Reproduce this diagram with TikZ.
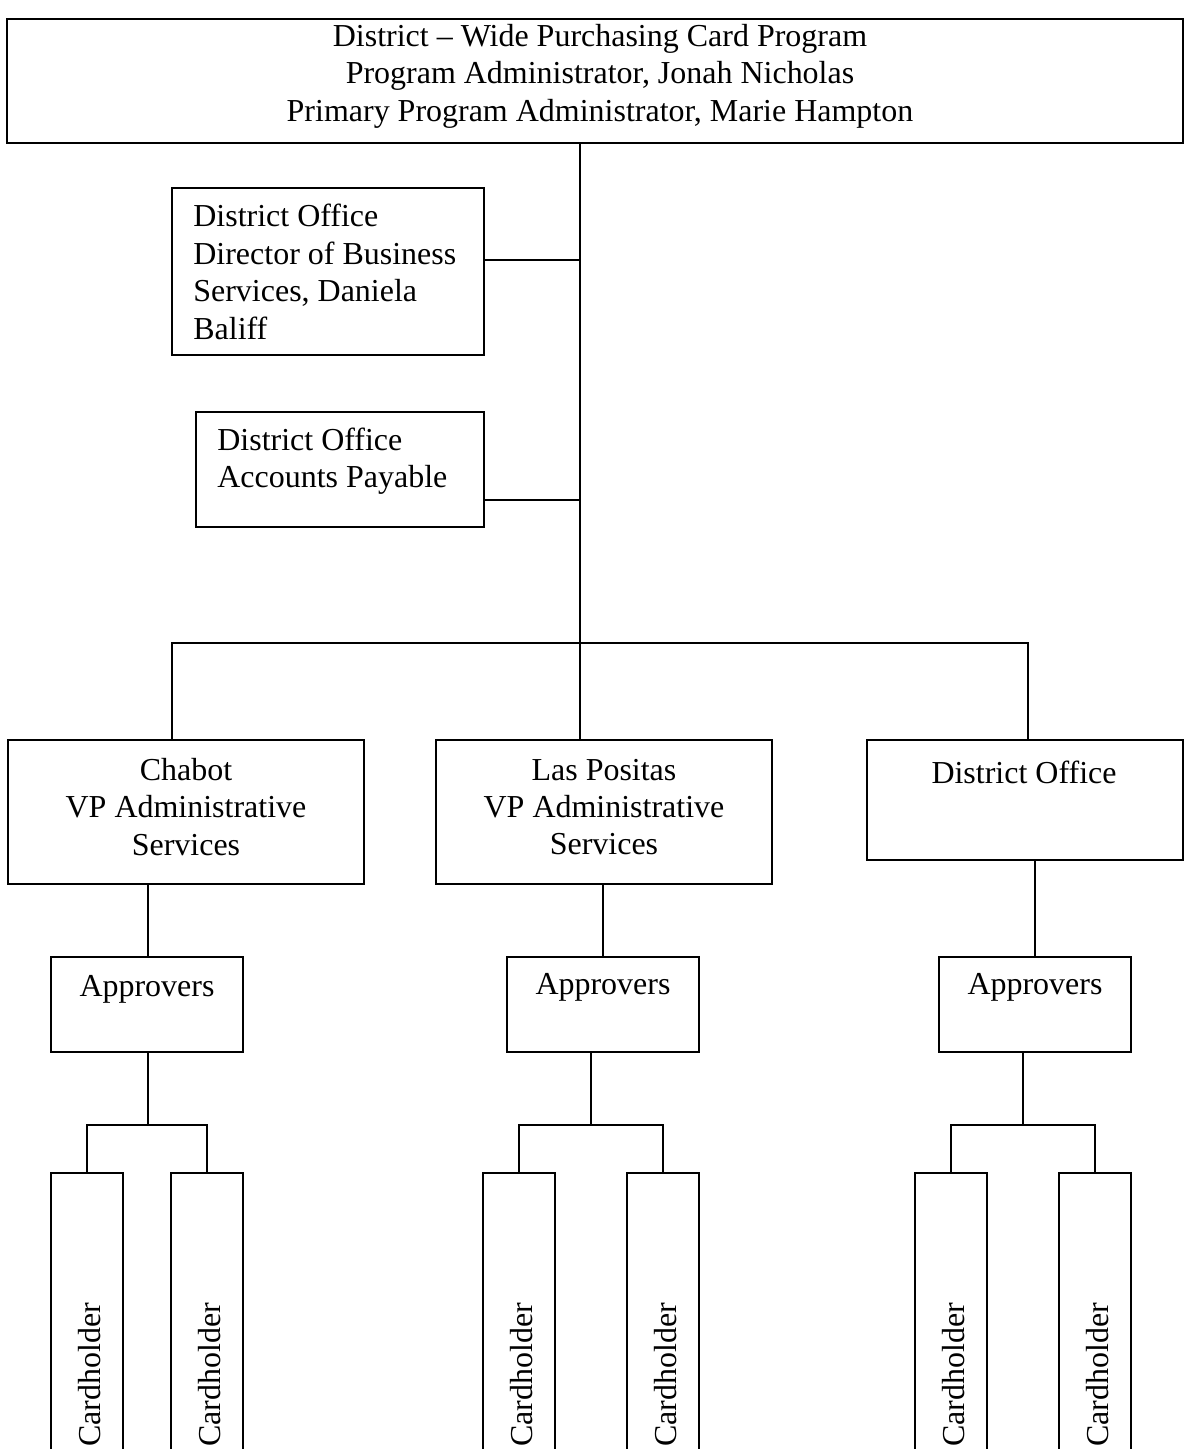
\documentclass[tikz,border=0pt]{standalone}
\usepackage{fontspec}
\setmainfont{Liberation Serif}
\usepackage{tikz}
\usetikzlibrary{positioning}
\usetikzlibrary{fit}

\begin{document}
\begin{tikzpicture}
               [x=0.02cm, y=-0.02cm,
                box/.style = {draw, line width=1pt, inner sep=0pt},
                txt/.style = {inner sep=0pt, font=\fontsize{18.2}{21.3}\selectfont},
                holder/.style = {txt, rotate=90},
                link/.style = {line width=1pt}]
                \path[use as bounding box] (0,0) rectangle (1184,1449);
                \clip (0,0) rectangle (1184,1449);
                % Program box at the top
                \node[box, fit={(7,19) (1183,143)}] (prog) {};
                \node[txt, align=center] (progtxt) at (600,76) {District – Wide Purchasing Card Program\\Program Administrator, Jonah Nicholas\\Primary Program Administrator, Marie Hampton};
                % Office boxes hanging on the trunk
                \node[box, fit={(172,188) (484,355)}] (dir) {};
                \node[txt, align=left, anchor=west] (dirtxt) at (193,272) {District Office\\Director of Business\\Services, Daniela\\Baliff};
                \node[box, fit={(196,412) (484,527)}] (ap) {};
                \node[txt, align=left, anchor=west] (aptxt) at (217,461) {District Office\\Accounts Payable};
                % Branch heads
                \node[box, fit={(8,740) (364,884)}] (chabot) {};
                \node[txt, align=center] (chabottxt) at (186,807) {Chabot\\VP Administrative\\Services};
                \node[box, fit={(436,740) (772,884)}] (lp) {};
                \node[txt, align=center] (lptxt) at (604,807) {Las Positas\\VP Administrative\\Services};
                \node[box, fit={(867,740) (1183,860)}] (do) {};
                \node[txt] (dotxt) at (1024,772) {District Office};
                % Approvers
                \node[box, fit={(51,957) (243,1052)}] (appA) {};
                \node[txt] (appAtxt) at (147,989) {Approvers};
                \node[box, fit={(507,957) (699,1052)}] (appB) {};
                \node[txt] (appBtxt) at (603,987) {Approvers};
                \node[box, fit={(939,957) (1131,1052)}] (appC) {};
                \node[txt] (appCtxt) at (1035,987) {Approvers};
                % Cardholders, cut off by the bottom edge
                \node[box, fit={(51,1173) (123,1480)}] (chA1) {};
                \node[holder] (chA1txt) at (90,1375) {Cardholder};
                \node[box, fit={(171,1173) (243,1480)}] (chA2) {};
                \node[holder] (chA2txt) at (210,1375) {Cardholder};
                \node[box, fit={(483,1173) (555,1480)}] (chB1) {};
                \node[holder] (chB1txt) at (522,1375) {Cardholder};
                \node[box, fit={(627,1173) (699,1480)}] (chB2) {};
                \node[holder] (chB2txt) at (666,1375) {Cardholder};
                \node[box, fit={(915,1173) (987,1480)}] (chC1) {};
                \node[holder] (chC1txt) at (954,1375) {Cardholder};
                \node[box, fit={(1059,1173) (1131,1480)}] (chC2) {};
                \node[holder] (chC2txt) at (1098,1375) {Cardholder};
                % Joints
                \coordinate (j) at (580,643);
                \coordinate (jl) at (172,643);
                \coordinate (jr) at (1028,643);
                \coordinate (fA) at (148,1125);
                \coordinate (fB) at (591,1125);
                \coordinate (fC) at (1023,1125);
                % Lines
                \draw[link] (prog.south -| j) -- (lp.north -| j);
                \draw[link] ([yshift=0.23cm]dir.east) -- ([yshift=0.23cm]dir.east -| j);
                \draw[link] ([yshift=-0.61cm]ap.east) -- ([yshift=-0.61cm]ap.east -| j);
                \draw[link] (chabot.north -| jl) |- (jr) -- (do.north -| jr);
                \draw[link] (chabot.south -| fA) -- (appA.north -| fA);
                \draw[link] (lp.south -| appB.north) -- (appB.north);
                \draw[link] (do.south -| appC.north) -- (appC.north);
                \draw[link] (appA.south -| fA) -- (fA);
                \draw[link] (chA1.north) |- (fA) -| (chA2.north);
                \draw[link] (appB.south -| fB) -- (fB);
                \draw[link] (chB1.north) |- (fB) -| (chB2.north);
                \draw[link] (appC.south -| fC) -- (fC);
                \draw[link] (chC1.north) |- (fC) -| (chC2.north);
            \end{tikzpicture}
\end{document}
